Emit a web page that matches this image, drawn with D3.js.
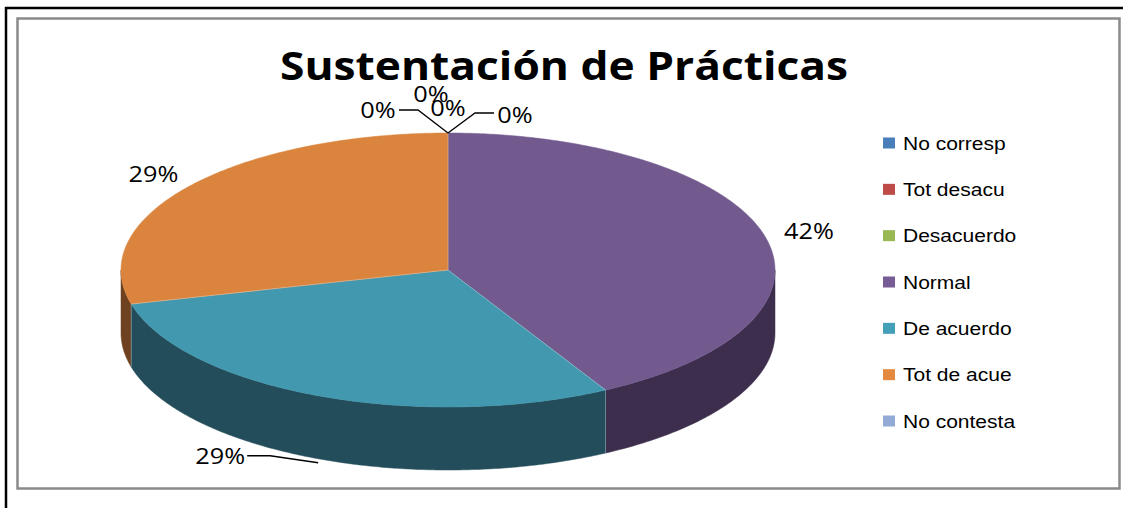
<!DOCTYPE html>
<html><head><meta charset="utf-8">
<script src="https://cdn.jsdelivr.net/npm/d3@7"></script>
<style>html,body{margin:0;padding:0;background:#fff;}svg{display:block;}</style>
</head><body>
<svg id="c" width="1123" height="508"></svg>
<script>
// ---- data ----
const categories = ["No corresp","Tot desacu","Desacuerdo","Normal","De acuerdo","Tot de acue","No contesta"];
const values = [0, 0, 0, 42, 29, 29, 0];
const title = "Sustentación de Prácticas";
// ---- styles ----
const topColors = ["#4A7EBB","#BE4B48","#98B954","#725A8F","#4298AE","#DA843E","#94AAD6"];
const sideColors = ["#2A4A70","#70292A","#5A7030","#3C2E4C","#234D5A","#6E4220","#56688A"];
const legendColors = ["#4A7EBB","#BE4B48","#98B954","#775C96","#44A0B8","#E48A40","#94AAD6"];

const svg = d3.select("#c");
// borders
svg.append("path").attr("d","M6,508 V8 H1123").attr("fill","none").attr("stroke","#000").attr("stroke-width",2.5);
svg.append("rect").attr("x",17.5).attr("y",18.5).attr("width",1102).attr("height",470).attr("fill","none").attr("stroke","#8a8a8a").attr("stroke-width",2.5);

// title
svg.append("text").attr("x",280).attr("y",80).attr("font-family","'Open Sans', sans-serif").attr("font-weight","bold")
  .attr("font-size",39).attr("textLength",568).attr("lengthAdjust","spacingAndGlyphs").attr("fill","#000").text(title);

// 3D pie geometry
const cx = 448, cy = 270, rx = 327, ry = 137, depth = 63;
const total = d3.sum(values);
const pct = values.map(v => Math.round(v/total*100) + "%");
const arcs = d3.pie().sort(null).startAngle(0).endAngle(2*Math.PI).value(d=>d)(values);
const P = (a, dy=0) => [cx + rx*Math.sin(a), cy - ry*Math.cos(a) + dy];

function samplePts(a0, a1, dy) {
  const n = Math.max(2, Math.ceil(Math.abs(a1-a0)/0.01));
  return d3.range(n+1).map(i => P(a0 + (a1-a0)*i/n, dy));
}
const line = d3.line();

// side walls: visible where angle between PI/2 and 3PI/2
const gSide = svg.append("g");
arcs.forEach((a,i) => {
  const s = Math.max(a.startAngle, Math.PI/2), e = Math.min(a.endAngle, 3*Math.PI/2);
  if (e - s <= 0) return;
  const pts = samplePts(s, e, 0).concat(samplePts(e, s, depth));
  gSide.append("path").attr("d", line(pts) + "Z").attr("fill", sideColors[i]).attr("stroke", sideColors[i]).attr("stroke-width",0.5);
});
arcs.forEach((a,i) => {
  if (a.endAngle > Math.PI/2 && a.endAngle < 3*Math.PI/2 && values[i] > 0) {
    const p0 = P(a.endAngle), p1 = P(a.endAngle, depth);
    gSide.append("line").attr("x1",p0[0]).attr("y1",p0[1]).attr("x2",p1[0]).attr("y2",p1[1]).attr("stroke","#6a8a98").attr("stroke-width",1);
  }
});

// top faces
const gTop = svg.append("g");
arcs.forEach((a,i) => {
  if (a.endAngle - a.startAngle <= 0) return;
  const pts = [[cx,cy]].concat(samplePts(a.startAngle, a.endAngle, 0));
  gTop.append("path").attr("d", line(pts) + "Z").attr("fill", topColors[i]).attr("stroke", topColors[i]).attr("stroke-width",0.5);
});
arcs.forEach((a,i) => {
  if (values[i] === 0) return;
  const p = P(a.startAngle);
  gTop.append("line").attr("x1",cx).attr("y1",cy).attr("x2",p[0]).attr("y2",p[1]).attr("stroke","rgba(255,255,255,0.35)").attr("stroke-width",0.8);
});

// labels
const labelFont = "'Open Sans', sans-serif";
const gLab = svg.append("g").attr("font-family", labelFont).attr("font-size", 22).attr("fill","#000");
function stretch(t, f) {
  const len = t.node().getComputedTextLength();
  t.attr("textLength", len*f).attr("lengthAdjust","spacingAndGlyphs");
}
// layout for zero-slice labels (positions near the 12 o'clock point)
const zeroLayout = {
  0: {x: 378, y: 118, leader: [[418,110],[399,110]]},
  1: {x: 431, y: 102, leader: null},
  2: {x: 448, y: 116, leader: null},
  6: {x: 515, y: 123, leader: [[475,113],[494,113]]}
};
arcs.forEach((a,i) => {
  const mid = (a.startAngle + a.endAngle)/2;
  let t;
  if (values[i] === 0) {
    const L = zeroLayout[i];
    const anchorPt = P(a.startAngle);
    if (L.leader) {
      gLab.append("path").attr("d", line([anchorPt].concat(L.leader))).attr("fill","none").attr("stroke","#000").attr("stroke-width",1.3);
    }
    t = gLab.append("text").attr("x",L.x).attr("y",L.y).attr("text-anchor","middle").text(pct[i]);
  } else if (mid > Math.PI && mid < 1.25*Math.PI) {
    const p0 = P(mid, depth + 4);
    const p1 = [p0[0]-48, p0[1]-7], p2 = [p1[0]-23, p1[1]];
    gLab.append("path").attr("d", line([p0,p1,p2])).attr("fill","none").attr("stroke","#000").attr("stroke-width",1.3);
    t = gLab.append("text").attr("x",p2[0]-2).attr("y",p2[1]+8).attr("text-anchor","end").text(pct[i]);
  } else {
    const k = 1.14;
    const x = cx + rx*Math.sin(mid)*k, y = cy - ry*Math.cos(mid)*k;
    t = gLab.append("text").attr("x",x).attr("y",y+8).attr("text-anchor","middle").text(pct[i]);
  }
  stretch(t, 1.15);
});

// legend
const legY = d3.scalePoint().domain(categories).range([143, 421]);
const gLeg = svg.append("g");
categories.forEach((c,i) => {
  const y = legY(c);
  gLeg.append("rect").attr("x",883).attr("y",y-5.5).attr("width",12).attr("height",11).attr("fill",legendColors[i]);
  const t = gLeg.append("text").attr("x",903).attr("y",y+6.5).attr("font-family","'Liberation Sans', Arial, sans-serif")
    .attr("font-size",17.5).attr("fill","#000").text(c);
  stretch(t, 1.2);
});
</script>
</body></html>
